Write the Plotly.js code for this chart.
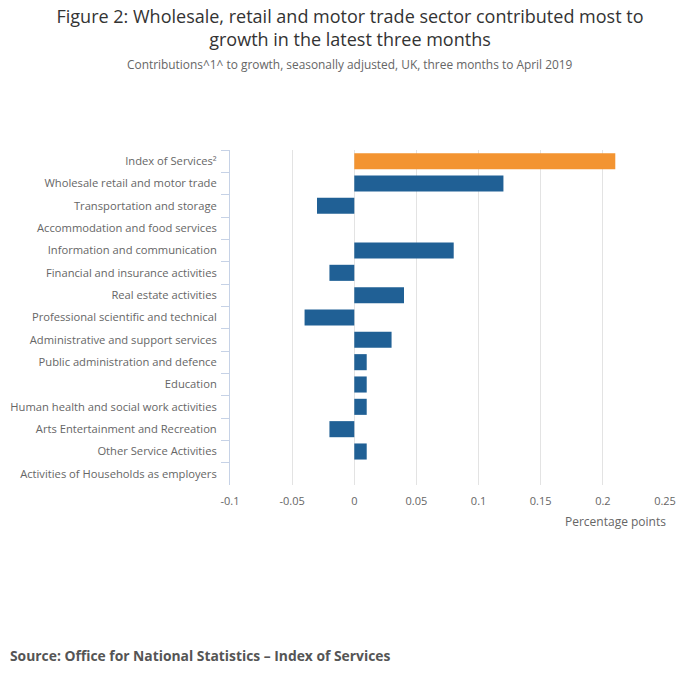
<!DOCTYPE html>
<html>
<head>
<meta charset="utf-8">
<script src="https://cdn.plot.ly/plotly-3.0.1.min.js"></script>
<style>html,body{margin:0;padding:0;background:#fff;}#chart{width:700px;height:682px;}</style>
</head>
<body>
<div id="chart"></div>
<script>
var categories = [
  "Index of Services²",
  "Wholesale retail and motor trade",
  "Transportation and storage",
  "Accommodation and food services",
  "Information and communication",
  "Financial and insurance activities",
  "Real estate activities",
  "Professional scientific and technical",
  "Administrative and support services",
  "Public administration and defence",
  "Education",
  "Human health and social work activities",
  "Arts Entertainment and Recreation",
  "Other Service Activities",
  "Activities of Households as employers"
];
var values = [0.21, 0.12, -0.03, 0.0, 0.08, -0.02, 0.04, -0.04, 0.03, 0.01, 0.01, 0.01, -0.02, 0.01, 0.0];
var xTickVals = [-0.1, -0.05, 0, 0.05, 0.1, 0.15, 0.2, 0.25];
var xTickText = ["-0.1", "-0.05", "0", "0.05", "0.1", "0.15", "0.2", "0.25"];

var colors = categories.map(function(c, i){ return i === 0 ? "#f39431" : "#206095"; });
var FONT = "Open Sans, sans-serif";

var trace = {
  type: "bar",
  orientation: "h",
  y: categories,
  x: values,
  marker: {color: colors},
  hoverinfo: "x+y"
};

var layout = {
  width: 700, height: 682,
  margin: {l: 230, r: 35, t: 150, b: 197},
  paper_bgcolor: "#fff", plot_bgcolor: "#fff",
  font: {family: FONT, color: "#666", size: 11},
  showlegend: false,
  bargap: 0.28,
  title: {
    text: "Figure 2: Wholesale, retail and motor trade sector contributed most to<br>growth in the latest three months",
    font: {family: FONT, size: 18, color: "#333"},
    x: 0.5, xanchor: "center",
    yref: "container", y: 1 - 23/682, yanchor: "middle"
  },
  xaxis: {
    range: [-0.1, 0.25],
    tickvals: xTickVals, ticktext: xTickText,
    showgrid: true, gridcolor: "#e3e3e3", gridwidth: 1,
    zeroline: false, showline: false, ticks: "",
    tickfont: {size: 11, color: "#666"},
    ticklabelstandoff: 8,
    fixedrange: true
  },
  yaxis: {
    type: "category",
    autorange: "reversed",
    showline: true, linecolor: "#c6d2e6", linewidth: 1,
    ticks: "outside", ticklen: 8, tickcolor: "#c6d2e6", tickson: "boundaries",
    showgrid: false, zeroline: false,
    tickfont: {size: 11.2, color: "#666"},
    ticklabelstandoff: 10,
    fixedrange: true
  },
  annotations: [
    {
      text: "Contributions^1^ to growth, seasonally adjusted, UK, three months to April 2019",
      xref: "paper", yref: "paper", x: (350-230)/435, y: (485-64)/335,
      xanchor: "center", yanchor: "middle", showarrow: false,
      font: {family: FONT, size: 11.9, color: "#666"}
    },
    {
      text: "Percentage points",
      xref: "paper", yref: "paper", x: (668-230)/435, y: (485-521)/335,
      xanchor: "right", yanchor: "middle", showarrow: false,
      font: {family: FONT, size: 12, color: "#666"}
    },
    {
      text: "<b>Source: Office for National Statistics – Index of Services</b>",
      xref: "paper", yref: "paper", x: (8-230)/435, y: (485-655)/335,
      xanchor: "left", yanchor: "middle", showarrow: false,
      font: {family: FONT, size: 13.85, color: "#555"}
    }
  ]
};

Plotly.newPlot("chart", [trace], layout, {displayModeBar: false});
</script>
</body>
</html>
